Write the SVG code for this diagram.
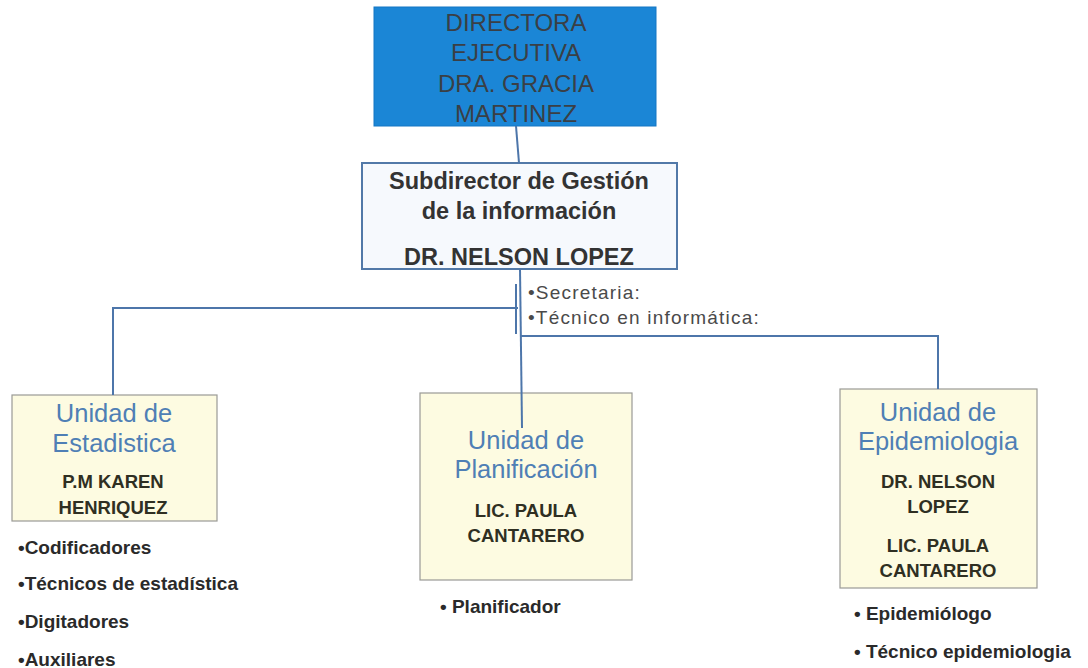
<svg xmlns="http://www.w3.org/2000/svg" width="1088" height="668" viewBox="0 0 1088 668">
<style>
.dir{fill:#1b86d6;stroke:#1577c4;stroke-width:1}
.sub{fill:#f6f9fd;stroke:#5279a8;stroke-width:2}
.unit{fill:#fdfbe1;stroke:#9a9a96;stroke-width:1.2}
.conn{fill:none;stroke:#4d76aa;stroke-width:2}
text{font-family:"Liberation Sans",Arial,sans-serif;text-anchor:middle}
.dt{font-size:24px;fill:#3a3f45}
.st{font-size:23.5px;font-weight:bold;fill:#333}
.ut{font-size:25.5px;fill:#4f7fb5}
.nt{font-size:18.5px;font-weight:bold;fill:#2f2f22}
.bt{font-size:19px;font-weight:bold;fill:#2a2a2a;text-anchor:start}
.sec{font-size:19px;letter-spacing:1.2px;fill:#4a4a4a;text-anchor:start}
</style>
<rect width="1088" height="668" fill="#fff"/>
<g id="directora">
<rect class="dir" x="374" y="7" width="282" height="119"/>
<text class="dt" x="516" y="31">DIRECTORA</text>
<text class="dt" x="516" y="61">EJECUTIVA</text>
<text class="dt" x="516" y="92">DRA. GRACIA</text>
<text class="dt" x="516" y="122">MARTINEZ</text>
</g>
<g id="subdirector">
<rect class="sub" x="362" y="163" width="315" height="106"/>
<text class="st" x="519" y="189">Subdirector de Gestión</text>
<text class="st" x="519" y="219">de la información</text>
<text class="st" x="519" y="265">DR. NELSON LOPEZ</text>
</g>
<g id="apoyo">
<text class="sec" x="528" y="299">•Secretaria:</text>
<text class="sec" x="528" y="324">•Técnico en informática:</text>
</g>
<g id="estadistica">
<rect class="unit" x="12" y="395" width="205" height="126"/>
<text class="ut" x="114" y="422">Unidad de</text>
<text class="ut" x="114" y="452">Estadistica</text>
<text class="nt" x="113" y="488">P.M KAREN</text>
<text class="nt" x="113" y="514">HENRIQUEZ</text>
<text class="bt" x="18" y="554">•Codificadores</text>
<text class="bt" x="18" y="590">•Técnicos de estadística</text>
<text class="bt" x="18" y="628">•Digitadores</text>
<text class="bt" x="18" y="666">•Auxiliares</text>
</g>
<g id="planificacion">
<rect class="unit" x="420" y="393" width="212" height="187"/>
<text class="ut" x="526" y="449">Unidad de</text>
<text class="ut" x="526" y="478">Planificación</text>
<text class="nt" x="526" y="517">LIC. PAULA</text>
<text class="nt" x="526" y="542">CANTARERO</text>
<text class="bt" x="440" y="613">• Planificador</text>
</g>
<g id="epidemiologia">
<rect class="unit" x="840" y="389" width="197" height="199"/>
<text class="ut" x="938" y="421">Unidad de</text>
<text class="ut" x="938" y="450">Epidemiologia</text>
<text class="nt" x="938" y="488">DR. NELSON</text>
<text class="nt" x="938" y="513">LOPEZ</text>
<text class="nt" x="938" y="552">LIC. PAULA</text>
<text class="nt" x="938" y="577">CANTARERO</text>
<text class="bt" x="854" y="620">• Epidemiólogo</text>
<text class="bt" x="854" y="658">• Técnico epidemiologia</text>
</g>
<g id="connectors">
<line class="conn" x1="516" y1="126" x2="519" y2="163"/>
<line class="conn" x1="520" y1="269" x2="522" y2="428"/>
<polyline class="conn" points="518,308 113,308 113,395"/>
<polyline class="conn" points="521,336 938,336 938,389"/>
<line class="conn" x1="516" y1="284" x2="516" y2="334"/>
</g>
</svg>
